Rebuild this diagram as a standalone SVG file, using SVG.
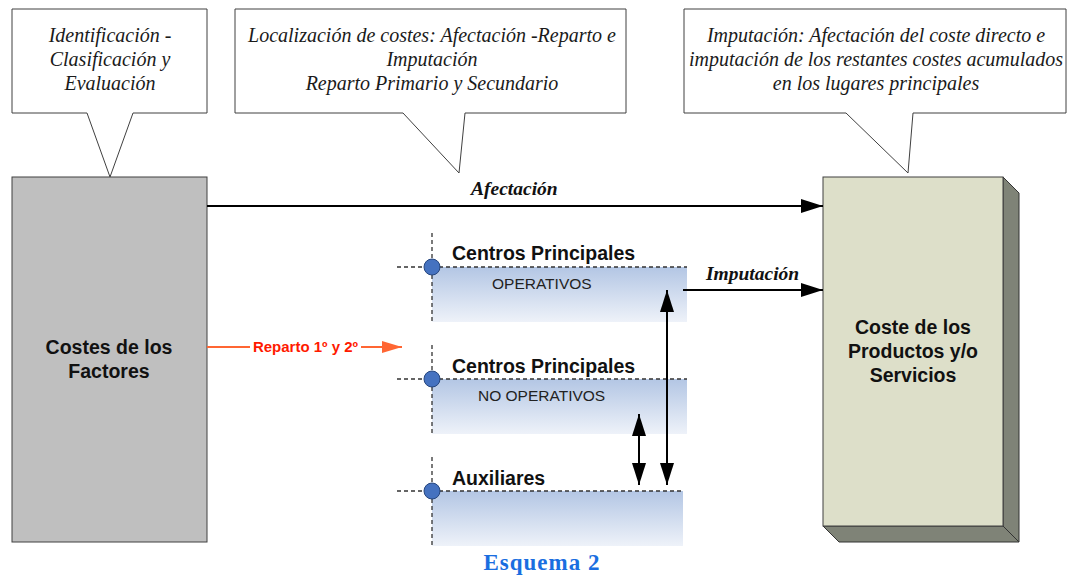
<svg xmlns="http://www.w3.org/2000/svg" width="1067" height="576" viewBox="0 0 1067 576">
<defs>
<linearGradient id="band" x1="0" y1="0" x2="0" y2="1">
<stop offset="0" stop-color="#b3c6e4"/>
<stop offset="1" stop-color="#eef2f9"/>
</linearGradient>
<marker id="ah" markerWidth="22" markerHeight="14" refX="22" refY="7" orient="auto-start-reverse" markerUnits="userSpaceOnUse">
<path d="M0,0 L22,7 L0,14 Z" fill="#000"/>
</marker>
<marker id="ahr" markerWidth="20" markerHeight="12" refX="20" refY="6" orient="auto" markerUnits="userSpaceOnUse">
<path d="M0,0 L20,6 L0,12 Z" fill="#ff6633"/>
</marker>
</defs>
<style>
.callout{fill:#fff;stroke:#404040;stroke-width:1}
.ct{font-family:"Liberation Serif",serif;font-style:italic;font-size:20px;fill:#1a1a1a;text-anchor:middle}
.big{font-family:"Liberation Sans",Arial,sans-serif;font-weight:bold;font-size:19.5px;fill:#111;text-anchor:middle}
.head{font-family:"Liberation Sans",Arial,sans-serif;font-weight:bold;font-size:19.5px;fill:#111}
.sub{font-family:"Liberation Sans",Arial,sans-serif;font-size:15.5px;fill:#222}
.dash{stroke:#333;stroke-width:1.3;stroke-dasharray:4,3;fill:none}
.dot{fill:#4572c0;stroke:#26467e;stroke-width:1}
.conn{stroke:#000;stroke-width:2;fill:none}
.lbl{font-family:"Liberation Serif",serif;font-style:italic;font-weight:bold;font-size:19.5px;fill:#111}
</style>
<rect width="1067" height="576" fill="#fff"/>

<g id="callout1">
<path class="callout" d="M12,9 H207 V113 H133 L110,177 L87,113 H12 Z"/>
<text class="ct" x="110" y="42">Identificación -</text>
<text class="ct" x="110" y="66">Clasificación y</text>
<text class="ct" x="110" y="90">Evaluación</text>
</g>

<g id="callout2">
<path class="callout" d="M235,9 H626 V113 H465 L459,173 L403,113 H235 Z"/>
<text class="ct" x="432" y="42">Localización de costes: Afectación -Reparto e</text>
<text class="ct" x="432" y="66">Imputación</text>
<text class="ct" x="432" y="90">Reparto Primario y Secundario</text>
</g>

<g id="callout3">
<path class="callout" d="M684,9 H1066 V113 H913 L908,173 L846,113 H684 Z"/>
<text class="ct" x="876" y="42">Imputación: Afectación del coste directo e</text>
<text class="ct" x="876" y="66">imputación de los restantes costes acumulados</text>
<text class="ct" x="876" y="90">en los lugares principales</text>
</g>

<g id="costes-factores">
<rect x="12" y="177" width="195" height="365" fill="#bfbfbf" stroke="#404040" stroke-width="1"/>
<text class="big" x="109" y="354">Costes de los</text>
<text class="big" x="109" y="378">Factores</text>
</g>

<g id="coste-productos">
<path d="M1003,177 L1019,193 L1019,542 L1003,526 Z" fill="#7f8377" stroke="#333" stroke-width="1"/>
<path d="M823,526 L1003,526 L1019,542 L839,542 Z" fill="#7f8377" stroke="#333" stroke-width="1"/>
<rect x="823" y="177" width="180" height="349" fill="#dddfc9" stroke="#404040" stroke-width="1"/>
<text class="big" x="913" y="334">Coste de los</text>
<text class="big" x="913" y="358">Productos y/o</text>
<text class="big" x="913" y="382">Servicios</text>
</g>

<g id="centros-operativos">
<rect x="432" y="267" width="255" height="55" fill="url(#band)"/>
<line class="dash" x1="432" y1="233" x2="432" y2="322"/>
<line class="dash" x1="397" y1="267" x2="687" y2="267"/>
<circle class="dot" cx="432" cy="267" r="8"/>
<text class="head" x="452" y="260">Centros Principales</text>
<text class="sub" x="492" y="289">OPERATIVOS</text>
</g>

<g id="centros-no-operativos">
<rect x="432" y="379" width="255" height="55" fill="url(#band)"/>
<line class="dash" x1="432" y1="345" x2="432" y2="434"/>
<line class="dash" x1="397" y1="379" x2="687" y2="379"/>
<circle class="dot" cx="432" cy="379" r="8"/>
<text class="head" x="452" y="373">Centros Principales</text>
<text class="sub" x="478" y="401">NO OPERATIVOS</text>
</g>

<g id="auxiliares">
<rect x="432" y="491" width="251" height="55" fill="url(#band)"/>
<line class="dash" x1="432" y1="457" x2="432" y2="547"/>
<line class="dash" x1="397" y1="491" x2="683" y2="491"/>
<circle class="dot" cx="432" cy="491" r="8"/>
<text class="head" x="452" y="485">Auxiliares</text>
</g>

<g id="connectors">
<line class="conn" x1="207" y1="206" x2="823" y2="206" marker-end="url(#ah)"/>
<text class="lbl" x="471" y="195">Afectación</text>
<line class="conn" x1="683" y1="290" x2="823" y2="290" marker-end="url(#ah)"/>
<text class="lbl" x="706" y="280">Imputación</text>
<line class="conn" x1="667" y1="290" x2="667" y2="485" marker-start="url(#ah)" marker-end="url(#ah)"/>
<line class="conn" x1="639" y1="414" x2="639" y2="485" marker-start="url(#ah)" marker-end="url(#ah)"/>
<line x1="207" y1="347" x2="250" y2="347" stroke="#ff6633" stroke-width="2"/>
<line x1="361" y1="347" x2="402" y2="347" stroke="#ff6633" stroke-width="2" marker-end="url(#ahr)"/>
<text x="305.5" y="352" font-family="'Liberation Sans',Arial,sans-serif" font-weight="bold" font-size="15" fill="#ff1a00" text-anchor="middle">Reparto 1º y 2º</text>
</g>

<text x="542" y="570" font-family="'Liberation Serif',serif" font-weight="bold" font-size="23" letter-spacing="1" fill="#1a6ee0" text-anchor="middle">Esquema 2</text>
</svg>
